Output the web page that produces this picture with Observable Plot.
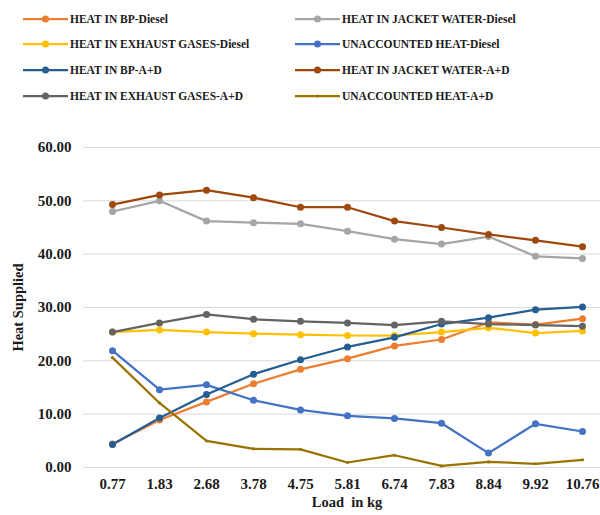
<!DOCTYPE html>
<html>
<head>
<meta charset="utf-8">
<script src="https://cdn.jsdelivr.net/npm/d3@7"></script>
<script src="https://cdn.jsdelivr.net/npm/@observablehq/plot@0.6"></script>
<style>
  html, body { margin: 0; padding: 0; background: #fff; overflow: hidden; width: 600px; height: 515px; }
  #wrap { position: relative; width: 600px; height: 515px; overflow: hidden; }
  #wrap svg { display: block; max-width: none !important; }
  svg text { font-family: Liberation Serif, Times New Roman, serif !important; }
</style>
</head>
<body>
<div id="wrap"></div>
<script>
const loads = ["0.77", "1.83", "2.68", "3.78", "4.75", "5.81", "6.74", "7.83", "8.84", "9.92", "10.76"];

const heatBPDiesel        = [4.4, 8.9, 12.3, 15.7, 18.4, 20.4, 22.8, 24.0, 27.2, 26.8, 27.9];
const jacketWaterDiesel   = [48.0, 50.0, 46.2, 45.9, 45.7, 44.3, 42.8, 41.9, 43.3, 39.6, 39.2];
const exhaustGasesDiesel  = [25.4, 25.8, 25.4, 25.1, 24.9, 24.75, 24.75, 25.4, 26.2, 25.2, 25.6];
const unaccountedDiesel   = [21.9, 14.6, 15.5, 12.6, 10.8, 9.7, 9.2, 8.3, 2.7, 8.2, 6.75];
const heatBPAD            = [4.3, 9.3, 13.7, 17.5, 20.2, 22.6, 24.4, 26.9, 28.1, 29.6, 30.1];
const jacketWaterAD       = [49.3, 51.1, 52.0, 50.6, 48.8, 48.8, 46.2, 45.0, 43.7, 42.6, 41.4];
const exhaustGasesAD      = [25.4, 27.1, 28.7, 27.8, 27.4, 27.1, 26.7, 27.4, 26.9, 26.7, 26.5];
const unaccountedAD       = [20.6, 12.1, 5.0, 3.5, 3.4, 0.94, 2.3, 0.3, 1.07, 0.7, 1.44];

const seriesNames = [
  "HEAT IN BP-Diesel", "HEAT IN JACKET WATER-Diesel",
  "HEAT IN EXHAUST GASES-Diesel", "UNACCOUNTED HEAT-Diesel",
  "HEAT IN BP-A+D", "HEAT IN JACKET WATER-A+D",
  "HEAT IN EXHAUST GASES-A+D", "UNACCOUNTED HEAT-A+D"
];
const seriesValues = [
  heatBPDiesel, jacketWaterDiesel,
  exhaustGasesDiesel, unaccountedDiesel,
  heatBPAD, jacketWaterAD,
  exhaustGasesAD, unaccountedAD
];
const seriesColors = [
  "#ED7D31", "#A5A5A5",
  "#FFC000", "#4472C4",
  "#255E91", "#9E480E",
  "#636363", "#997300"
];
const markerRadius = [3.5, 3.5, 3.5, 3.5, 3.5, 3.5, 3.5, 1.6];
const yTicks = [0, 10, 20, 30, 40, 50, 60];

const FONT = "Liberation Serif, Times New Roman, serif";

// Legend (above the chart)
const wrap = d3.select("#wrap");
const leg = wrap.append("svg").attr("id", "legend").attr("width", 600).attr("height", 110);
const colX = [23, 295];
const rowY = [19, 44, 70, 96];
seriesNames.forEach((name, i) => {
  const cx = colX[i % 2], cy = rowY[Math.floor(i / 2)];
  const g = leg.append("g").attr("transform", `translate(${cx},${cy})`);
  g.append("line").attr("x1", 0).attr("x2", 45).attr("y1", 0).attr("y2", 0)
    .attr("stroke", seriesColors[i]).attr("stroke-width", 2.25);
  g.append("circle").attr("cx", 22.5).attr("cy", 0).attr("r", markerRadius[i]).attr("fill", seriesColors[i]);
  g.append("text").attr("x", 47).attr("y", 0).attr("dy", "0.35em")
    .attr("font-size", 11.5).attr("font-weight", "bold").attr("fill", "#1a1a1a")
    .attr("font-family", FONT)
    .text(name);
});

// Long-format data
const rows = [];
seriesNames.forEach((name, s) => {
  loads.forEach((l, i) => rows.push({series: name, load: l, value: seriesValues[s][i], r: markerRadius[s]}));
});

const chart = Plot.plot({
  width: 613,
  height: 405,
  marginLeft: 83,
  marginRight: 3,
  marginTop: 37,
  marginBottom: 48,
  style: {fontFamily: FONT, fontSize: "15px", fontWeight: "bold", color: "#1a1a1a", background: "white", maxWidth: "none"},
  x: {type: "point", domain: loads, padding: 0.5, label: null},
  y: {domain: [0, 60], label: null},
  r: {type: "identity"},
  color: {domain: seriesNames, range: seriesColors},
  marks: [
    Plot.ruleY(yTicks, {stroke: "#D9D9D9", strokeWidth: 1}),
    Plot.axisY({ticks: yTicks, tickFormat: d => d.toFixed(2), tickSize: 0, tickPadding: 12, label: null}),
    Plot.axisX({tickSize: 0, tickPadding: 11, label: null}),
    Plot.line(rows, {x: "load", y: "value", z: "series", stroke: "series", strokeWidth: 2.25}),
    Plot.dot(rows, {x: "load", y: "value", fill: "series", r: "r", stroke: null}),
    Plot.text(["Heat Supplied"], {frameAnchor: "left", textAnchor: "middle", rotate: -90, dx: -65, fontSize: 14.5, fontWeight: "bold", fill: "#1a1a1a"}),
    Plot.text(["Load  in kg"], {frameAnchor: "bottom", textAnchor: "middle", dy: 39, fontSize: 14.5, fontWeight: "bold", fill: "#1a1a1a"})
  ]
});
wrap.node().appendChild(chart);
</script>
</body>
</html>
